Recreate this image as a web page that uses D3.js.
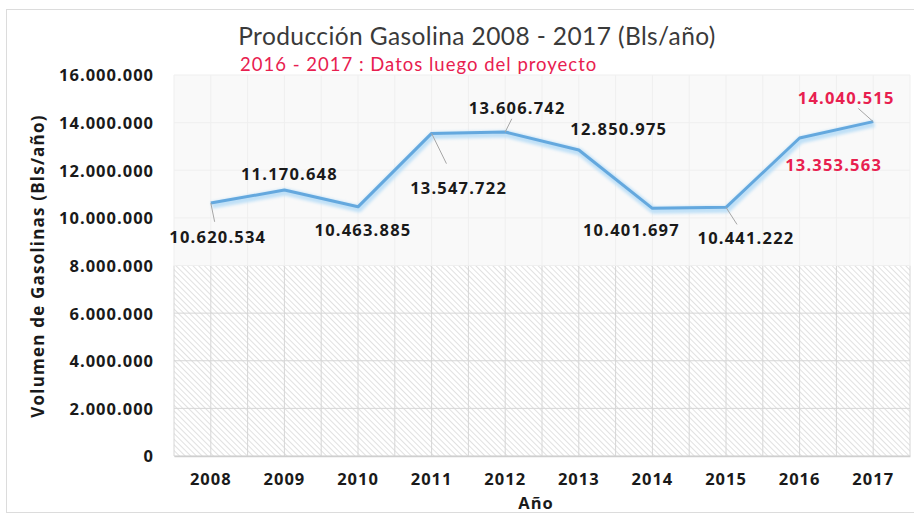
<!DOCTYPE html>
<html>
<head>
<meta charset="utf-8">
<script src="https://cdn.jsdelivr.net/npm/d3@7"></script>
<style>
  html, body { margin: 0; padding: 0; background: #fff; }
  svg { display: block; }
</style>
</head>
<body>
<svg id="chart" width="914" height="515"></svg>
<script>
// Gasoline production per year (barrels/year)
const years = ["2008", "2009", "2010", "2011", "2012", "2013", "2014", "2015", "2016", "2017"];
const production = [10620534, 11170648, 10463885, 13547722, 13606742, 12850975, 10401697, 10441222, 13353563, 14040515];
// Years after the project (labelled in red)
const projectYears = ["2016", "2017"];
const yTicks = [0, 2000000, 4000000, 6000000, 8000000, 10000000, 12000000, 14000000, 16000000];
const hatchedBelow = 8000000;

// Label placement relative to each point (layout only)
const labelOffsets = [[7, 34], [5, -16], [5, 23], [27, 55], [12, -24], [40, -21], [-21, 22], [20, 31], [34, 27], [-27, -24]];
const leaderLines = [true, false, false, true, true, false, false, true, false, true];

const fmt = v => d3.format(",")(v).replace(/,/g, ".");

const svg = d3.select("#chart");
const plot = { left: 174, right: 910, top: 75, bottom: 456 };
const boldFont = "'Open Sans', sans-serif";
const ink = "#1a1a1a";
const red = "#e8204f";

// outer frame
svg.append("rect")
  .attr("x", 6.5).attr("y", 9.5).attr("width", 930).attr("height", 503)
  .attr("fill", "#fff").attr("stroke", "#dcdcdc");

const x = d3.scaleBand().domain(years).range([plot.left, plot.right]).padding(0);
const y = d3.scaleLinear().domain([0, 16000000]).range([plot.bottom, plot.top]);

const defs = svg.append("defs");
const pat = defs.append("pattern")
  .attr("id", "hatch").attr("patternUnits", "userSpaceOnUse")
  .attr("width", 4).attr("height", 4)
  .attr("patternTransform", "rotate(-45)");
pat.append("rect").attr("width", 4).attr("height", 4).attr("fill", "#fff");
pat.append("line").attr("x1", 0).attr("y1", 0).attr("x2", 0).attr("y2", 4)
  .attr("stroke", "#cdcdcd").attr("stroke-width", 1.2);

const glow = defs.append("filter").attr("id", "soft").attr("x", "-5%").attr("y", "-20%").attr("width", "110%").attr("height", "140%");
glow.append("feGaussianBlur").attr("stdDeviation", 1.6);

// upper plot background
svg.append("rect")
  .attr("x", plot.left).attr("y", y(16000000))
  .attr("width", plot.right - plot.left).attr("height", y(hatchedBelow) - y(16000000))
  .attr("fill", "#f9f9f9");

// hatched lower band
svg.append("rect")
  .attr("x", plot.left).attr("y", y(hatchedBelow))
  .attr("width", plot.right - plot.left).attr("height", y(0) - y(hatchedBelow))
  .attr("fill", "url(#hatch)");

// grid: vertical lines at category centres and boundaries
const vLines = [];
years.forEach(yr => { vLines.push(x(yr)); vLines.push(x(yr) + x.bandwidth() / 2); });
vLines.push(plot.right);
const grid = svg.append("g");
vLines.forEach(v => {
  grid.append("line").attr("x1", v).attr("x2", v)
    .attr("y1", y(hatchedBelow)).attr("y2", y(0))
    .attr("stroke", "#d6d6d6").attr("stroke-width", 1);
  grid.append("line").attr("x1", v).attr("x2", v)
    .attr("y1", y(16000000)).attr("y2", y(hatchedBelow))
    .attr("stroke", "#efefef").attr("stroke-width", 1);
});
yTicks.forEach(t => {
  grid.append("line").attr("x1", plot.left).attr("x2", plot.right)
    .attr("y1", y(t)).attr("y2", y(t))
    .attr("stroke", t < hatchedBelow ? "#d6d6d6" : "#efefef").attr("stroke-width", 1);
});

// axes
const yAxis = svg.append("g").attr("transform", `translate(${plot.left - 20},0)`)
  .call(d3.axisLeft(y).tickValues(yTicks).tickFormat(fmt).tickSize(0).tickPadding(0));
yAxis.select(".domain").remove();
yAxis.selectAll("text")
  .attr("font-family", boldFont).attr("font-weight", 700)
  .attr("font-size", 16.5).attr("letter-spacing", 1).attr("fill", ink).attr("dy", "0.36em");

const xAxis = svg.append("g").attr("transform", `translate(0,${plot.bottom})`)
  .call(d3.axisBottom(x).tickSize(0).tickPadding(17));
xAxis.select(".domain").attr("stroke", "#cfcfcf").attr("stroke-width", 1.5);
xAxis.selectAll("text")
  .attr("font-family", boldFont).attr("font-weight", 700)
  .attr("font-size", 16.5).attr("letter-spacing", 1).attr("fill", ink);

// line with soft halo
const line = d3.line().x((d, i) => x(years[i]) + x.bandwidth() / 2).y(d => y(d));
svg.append("path").datum(production).attr("d", line)
  .attr("fill", "none").attr("stroke", "#bfe0f7").attr("stroke-width", 7)
  .attr("stroke-linejoin", "round").attr("filter", "url(#soft)").attr("transform", "translate(1,2)");
svg.append("path").datum(production).attr("d", line)
  .attr("fill", "none").attr("stroke", "#64a8de").attr("stroke-width", 3)
  .attr("stroke-linejoin", "round");

// data labels
const lbl = svg.append("g");
production.forEach((v, i) => {
  const px = x(years[i]) + x.bandwidth() / 2, py = y(v);
  const [dx, dy] = labelOffsets[i];
  const isProject = projectYears.includes(years[i]);
  if (leaderLines[i]) {
    const lx = px + dx * 0.55, ly = py + dy * 0.55;
    lbl.append("line").attr("x1", px).attr("y1", py).attr("x2", lx).attr("y2", ly)
      .attr("stroke", "#a6a6a6").attr("stroke-width", 1);
  }
  lbl.append("text")
    .attr("x", px + dx).attr("y", py + dy).attr("dy", "0.36em")
    .attr("text-anchor", "middle")
    .attr("font-family", boldFont).attr("font-weight", 700)
    .attr("font-size", 16.5).attr("letter-spacing", 1.2).attr("fill", isProject ? red : ink)
    .text(fmt(v));
});

// titles
svg.append("text").attr("x", 477).attr("y", 45).attr("text-anchor", "middle")
  .attr("font-family", "Lato, sans-serif").attr("font-size", 24.5).attr("letter-spacing", 0.4)
  .attr("fill", "#3a3a3a")
  .text("Producción Gasolina 2008 - 2017 (Bls/año)");
svg.append("text").attr("x", 240).attr("y", 71)
  .attr("font-family", "Lato, sans-serif").attr("font-size", 18.5).attr("letter-spacing", 1)
  .attr("fill", red)
  .text("2016 - 2017 : Datos luego del proyecto");

svg.append("text")
  .attr("transform", `translate(44,266) rotate(-90)`)
  .attr("text-anchor", "middle")
  .attr("font-family", boldFont).attr("font-weight", 700)
  .attr("font-size", 17).attr("letter-spacing", 1.2).attr("fill", ink)
  .text("Volumen de Gasolinas (Bls/año)");

svg.append("text").attr("x", 536).attr("y", 509).attr("text-anchor", "middle")
  .attr("font-family", boldFont).attr("font-weight", 700)
  .attr("font-size", 16.5).attr("letter-spacing", 1).attr("fill", ink)
  .text("Año");
</script>
</body>
</html>
